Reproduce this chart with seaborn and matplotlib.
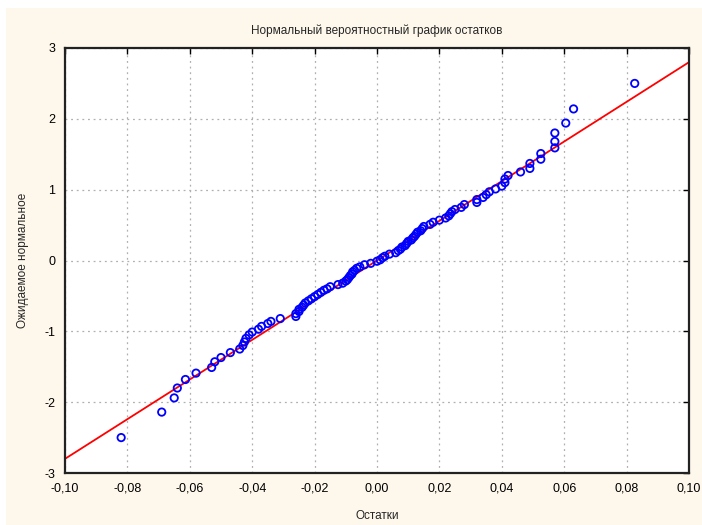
import matplotlib
matplotlib.use("Agg")
import matplotlib.pyplot as plt
import seaborn as sns
from matplotlib.patches import Rectangle

sns.set_style("white")
plt.rcParams["font.family"] = ["Liberation Sans", "DejaVu Sans"]

# residuals (sorted)
residuals = [
    -0.082, -0.069, -0.065, -0.064, -0.0614, -0.058, -0.053, -0.052, -0.050, -0.047,
    -0.044, -0.043, -0.0425, -0.042, -0.041, -0.040, -0.038, -0.037, -0.035, -0.034,
    -0.031, -0.026, -0.026, -0.025, -0.025, -0.024, -0.0235, -0.023, -0.022, -0.021,
    -0.020, -0.019, -0.018, -0.017, -0.016, -0.015, -0.0125, -0.011, -0.010, -0.0095,
    -0.009, -0.0085, -0.008, -0.0078, -0.0072, -0.0065, -0.0055, -0.004, -0.002, 0.000,
    0.001, 0.0018, 0.0025, 0.004, 0.006, 0.0068, 0.0075, 0.008, 0.009, 0.0095,
    0.010, 0.011, 0.0115, 0.012, 0.0125, 0.013, 0.014, 0.0145, 0.015, 0.017,
    0.018, 0.020, 0.022, 0.023, 0.0235, 0.024, 0.025, 0.027, 0.028, 0.032,
    0.032, 0.034, 0.035, 0.036, 0.038, 0.040, 0.041, 0.041, 0.042, 0.046,
    0.049, 0.049, 0.0525, 0.0525, 0.057, 0.057, 0.057, 0.0605, 0.063, 0.0826,
]

# expected normal values
expected = [
    -2.50, -2.14, -1.94, -1.80, -1.68, -1.59, -1.51, -1.43, -1.37, -1.30,
    -1.25, -1.20, -1.15, -1.10, -1.05, -1.01, -0.97, -0.93, -0.89, -0.86,
    -0.82, -0.79, -0.75, -0.72, -0.69, -0.66, -0.63, -0.60, -0.57, -0.54,
    -0.51, -0.48, -0.45, -0.42, -0.40, -0.37, -0.34, -0.32, -0.29, -0.27,
    -0.24, -0.21, -0.19, -0.16, -0.14, -0.11, -0.09, -0.06, -0.04, -0.01,
    0.01, 0.04, 0.06, 0.09, 0.11, 0.14, 0.16, 0.19, 0.21, 0.24,
    0.27, 0.29, 0.32, 0.34, 0.37, 0.40, 0.42, 0.45, 0.48, 0.51,
    0.54, 0.57, 0.60, 0.63, 0.66, 0.69, 0.72, 0.75, 0.79, 0.82,
    0.86, 0.89, 0.93, 0.97, 1.01, 1.05, 1.10, 1.15, 1.20, 1.25,
    1.30, 1.37, 1.43, 1.51, 1.59, 1.68, 1.80, 1.94, 2.14, 2.50,
]

# fitted normal line
line_x = [-0.10, 0.10]
line_y = [-2.8, 2.8]

x_ticks = [-0.10, -0.08, -0.06, -0.04, -0.02, 0.00, 0.02, 0.04, 0.06, 0.08, 0.10]
y_ticks = [-3, -2, -1, 0, 1, 2, 3]

fig = plt.figure(figsize=(7.02, 5.25), dpi=100, facecolor="white")
fig.patches.append(Rectangle((6 / 702, 0), 1, (525 - 8) / 525, transform=fig.transFigure,
                             facecolor="#fef8ec", edgecolor="none", zorder=-10))
ax = fig.add_axes([65 / 702, 52 / 525, 624 / 702, 425 / 525])
ax.set_facecolor("white")

sns.lineplot(x=line_x, y=line_y, color="red", linewidth=1.3, ax=ax, zorder=2)
sns.scatterplot(x=residuals, y=expected, marker="o", s=28, facecolor="none",
                edgecolor="#0000ff", linewidth=1.3, ax=ax, zorder=3)

ax.set_xlim(-0.10, 0.10)
ax.set_ylim(-3, 3)
ax.set_xticks(x_ticks)
ax.set_yticks(y_ticks)
ax.set_xticklabels([f"{v:.2f}".replace(".", ",").replace("-0,00", "0,00") for v in x_ticks])
ax.set_yticklabels([str(v) for v in y_ticks])
ax.tick_params(direction="in", length=4, width=1, colors="black", labelsize=9,
               top=True, right=True, pad=7)
ax.grid(True, color="#b0b0b0", linestyle=(0, (1.5, 3)), linewidth=0.9)
for s in ax.spines.values():
    s.set_color("#222222")
    s.set_linewidth(1.6)

ax.set_title("Нормальный вероятностный график остатков", fontsize=8.5, pad=10)
ax.set_xlabel("Остатки", fontsize=8.5, labelpad=11)
ax.set_ylabel("Ожидаемое нормальное", fontsize=8.5, labelpad=11)

fig.savefig("out.png", dpi=100, facecolor=fig.get_facecolor())
